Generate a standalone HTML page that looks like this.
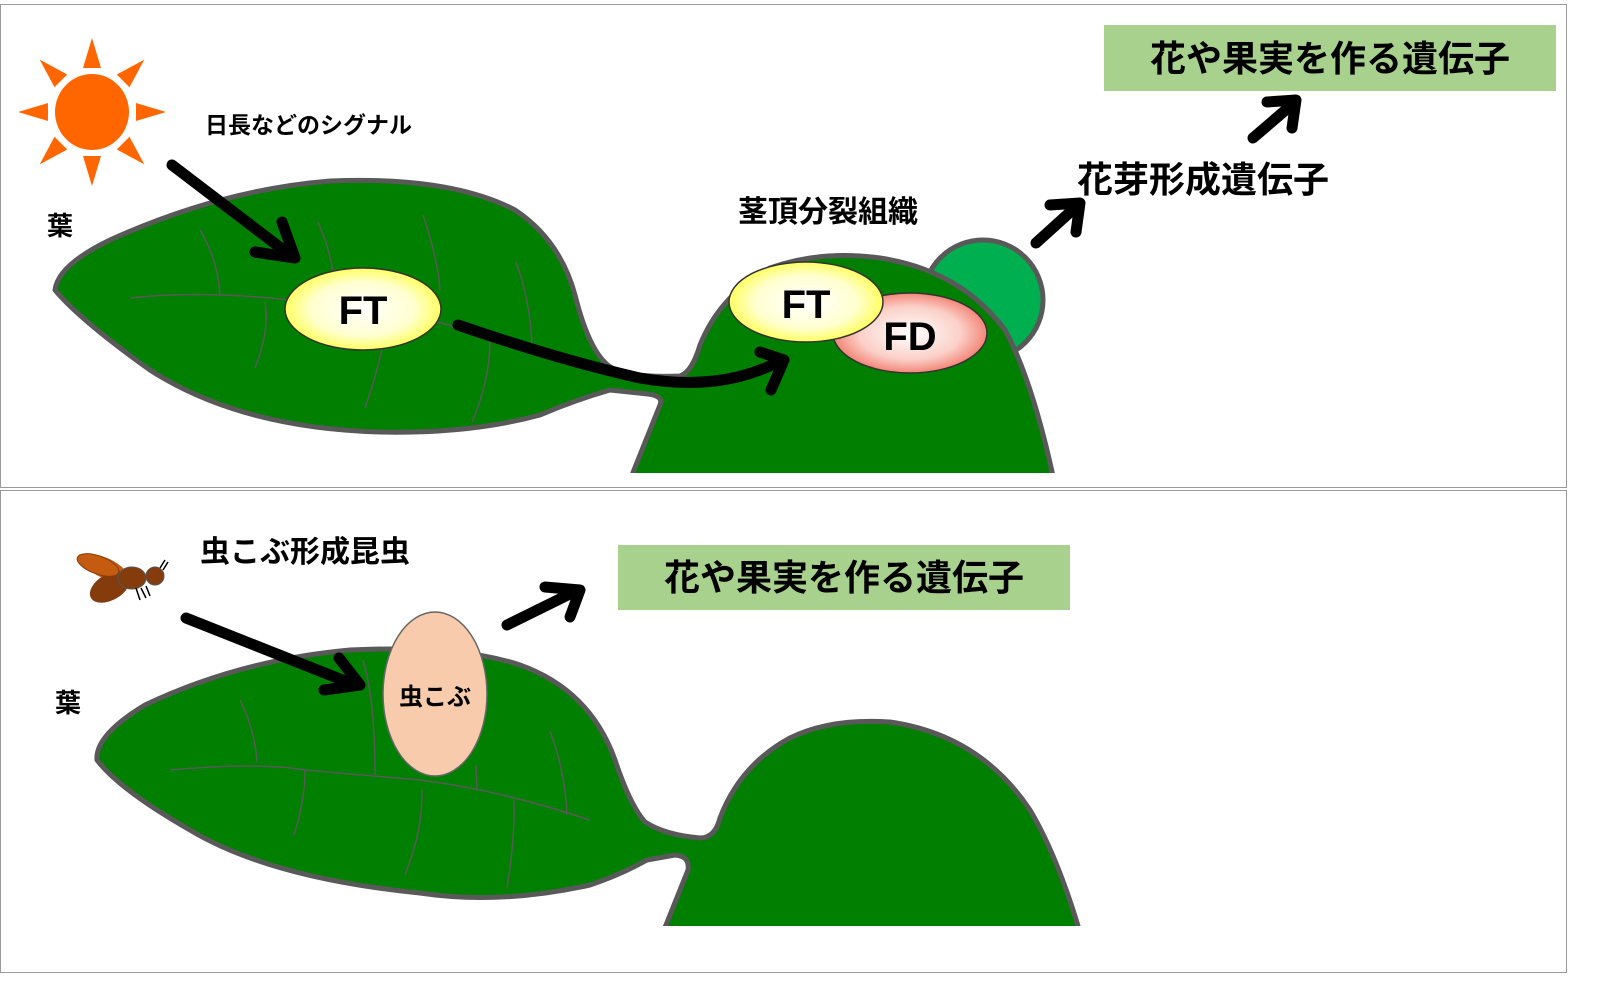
<!DOCTYPE html>
<html><head><meta charset="utf-8"><style>
html,body{margin:0;padding:0;background:#fff;}
svg{display:block;}
text{font-family:"Liberation Sans","Noto Sans CJK JP",sans-serif;}
</style></head><body>
<svg width="1600" height="994" viewBox="0 0 1600 994" xmlns="http://www.w3.org/2000/svg">
<defs>
<radialGradient id="gy" cx="0.5" cy="0.5" r="0.55"><stop offset="0" stop-color="#fff"/><stop offset="0.6" stop-color="#ffffd0"/><stop offset="1" stop-color="#ffff40"/></radialGradient>
<radialGradient id="gr" cx="0.5" cy="0.5" r="0.55"><stop offset="0" stop-color="#fff"/><stop offset="0.6" stop-color="#fbd0c8"/><stop offset="1" stop-color="#f07060"/></radialGradient>
<clipPath id="c1"><rect x="0" y="0" width="1600" height="473"/></clipPath>
<clipPath id="c2"><rect x="0" y="490" width="1600" height="436"/></clipPath>
</defs>
<rect x="0.5" y="4.5" width="1566" height="483" fill="#fff" stroke="#999"/>
<rect x="0.5" y="490.5" width="1566" height="482" fill="#fff" stroke="#999"/>

<!-- sun -->
<g fill="#ff6600">
<ellipse cx="92" cy="112" rx="37" ry="38"/>
<g id="ray"><polygon points="83,68 101,68 92,38"/></g>
<use href="#ray" transform="rotate(45 92 112)"/>
<use href="#ray" transform="rotate(90 92 112)"/>
<use href="#ray" transform="rotate(135 92 112)"/>
<use href="#ray" transform="rotate(180 92 112)"/>
<use href="#ray" transform="rotate(225 92 112)"/>
<use href="#ray" transform="rotate(270 92 112)"/>
<use href="#ray" transform="rotate(315 92 112)"/>
</g>
<text x="205" y="133" font-size="23" font-weight="bold">日長などのシグナル</text>
<text x="47" y="235" font-size="26" font-weight="bold">葉</text>

<!-- top plant -->
<circle cx="983" cy="300" r="60" fill="#00b050" stroke="#595959" stroke-width="5"/>
<g clip-path="url(#c1)">
<path d="M622 500 L660 405 Q664 396 648 394 L610 390 Q575 400 540 415 Q470 434 380 432 Q240 428 150 370 Q80 320 55 290 Q58 265 110 240 Q220 190 330 181 Q450 176 515 210 Q560 240 575 295 Q590 355 612 368 Q630 378 680 376 Q692 372 700 345 Q720 295 770 268 Q820 250 880 258 Q960 270 1005 330 Q1035 385 1058 500 Z" fill="#007f00" stroke="#595959" stroke-width="5" stroke-linejoin="round"/>
</g>
<g stroke="#595959" stroke-width="1.5" fill="none">
<path d="M130 298 Q200 290 290 300"/>
<path d="M200 230 Q218 260 220 295"/>
<path d="M318 222 Q330 250 333 272"/>
<path d="M265 302 Q270 330 255 368"/>
<path d="M423 215 Q438 260 440 290"/>
<path d="M438 322 L490 337 L560 352"/>
<path d="M516 262 Q530 300 532 345"/>
<path d="M490 340 Q490 380 472 422"/>
<path d="M383 345 Q375 380 365 408"/>
</g>
<ellipse cx="363" cy="309" rx="78" ry="41" fill="url(#gy)" stroke="#333" stroke-width="1.5"/>
<text x="363" y="324" font-size="40" font-weight="bold" text-anchor="middle">FT</text>
<ellipse cx="910" cy="333" rx="77" ry="40" fill="url(#gr)" stroke="#333" stroke-width="1.5"/>
<ellipse cx="806" cy="302" rx="77" ry="40" fill="url(#gy)" stroke="#333" stroke-width="1.5"/>
<text x="806" y="318" font-size="40" font-weight="bold" text-anchor="middle">FT</text>
<text x="910" y="350" font-size="40" font-weight="bold" text-anchor="middle">FD</text>

<!-- top arrows -->
<g stroke="#000" stroke-width="11" fill="none" stroke-linecap="round" stroke-linejoin="round">
<path d="M172 165 L290 255"/>
<path d="M255 252 L295 258 L282 222"/>
<path d="M458 325 Q560 360 640 378 Q720 392 778 362"/>
<path d="M760 352 L784 360 L771 390"/>
<path d="M1036 243 L1078 205"/>
<path d="M1050 205 L1080 203 L1076 232"/>
<path d="M1253 138 L1295 102"/>
<path d="M1267 102 L1296 100 L1292 128"/>
</g>
<text x="738" y="222" font-size="30" font-weight="bold">茎頂分裂組織</text>
<text x="1077" y="192" font-size="36" font-weight="bold">花芽形成遺伝子</text>
<rect x="1104" y="25" width="452" height="66" fill="#a9d18e"/>
<text x="1330" y="71" font-size="36" font-weight="bold" text-anchor="middle">花や果実を作る遺伝子</text>

<!-- bottom -->
<g>
<ellipse cx="105" cy="568" rx="25" ry="10" fill="#c55a11" transform="rotate(25 105 568)"/>
<ellipse cx="110" cy="587" rx="22" ry="13" fill="#843c0c" transform="rotate(-30 110 587)"/>
<ellipse cx="132" cy="578" rx="14" ry="11" fill="#843c0c" stroke="#555" stroke-width="1"/>
<circle cx="155" cy="576" r="9" fill="#843c0c" stroke="#555" stroke-width="1"/>
<ellipse cx="98" cy="565" rx="22" ry="9" fill="#c55a11" stroke="#843c0c" transform="rotate(20 98 565)"/>
<path d="M160 568 L165 560 M163 570 L168 562 M136 588 L140 600 M141 588 L146 598 M146 586 L150 596" stroke="#000" stroke-width="1.5"/>
</g>
<text x="200" y="562" font-size="30" font-weight="bold">虫こぶ形成昆虫</text>
<text x="55" y="712" font-size="26" font-weight="bold">葉</text>

<g clip-path="url(#c2)">
<path d="M656 950 L688 870 Q690 856 675 855 L647 860 Q620 875 590 885 Q500 905 420 893 Q270 878 190 830 Q120 790 97 760 Q95 735 145 705 Q240 660 350 650 Q460 645 520 665 Q590 690 615 760 Q630 805 645 822 Q665 835 700 838 Q715 838 720 818 Q740 765 790 738 Q830 718 890 722 Q980 735 1030 810 Q1060 860 1085 950 Z" fill="#007f00" stroke="#595959" stroke-width="5" stroke-linejoin="round"/>
</g>
<g stroke="#595959" stroke-width="1.5" fill="none">
<path d="M170 770 Q260 762 305 770 L420 780 Q500 790 590 820"/>
<path d="M240 700 Q255 730 257 762"/>
<path d="M363 660 Q375 700 375 775"/>
<path d="M305 770 Q305 800 294 835"/>
<path d="M422 790 Q423 830 405 875"/>
<path d="M514 800 Q515 840 507 888"/>
<path d="M550 731 Q565 770 567 815"/>
<path d="M476 765 L477 790"/>
</g>
<ellipse cx="435" cy="694" rx="52" ry="82" fill="#f8cbad" stroke="#666" stroke-width="1.5"/>
<text x="435" y="705" font-size="24" font-weight="bold" text-anchor="middle">虫こぶ</text>
<g stroke="#000" stroke-width="11" fill="none" stroke-linecap="round" stroke-linejoin="round">
<path d="M186 618 L355 685"/>
<path d="M324 690 L360 685 L339 658"/>
<path d="M507 625 L578 590"/>
<path d="M545 587 L580 590 L570 617"/>
</g>
<rect x="618" y="545" width="452" height="65" fill="#a9d18e"/>
<text x="844" y="590" font-size="36" font-weight="bold" text-anchor="middle">花や果実を作る遺伝子</text>
</svg>
</body></html>
